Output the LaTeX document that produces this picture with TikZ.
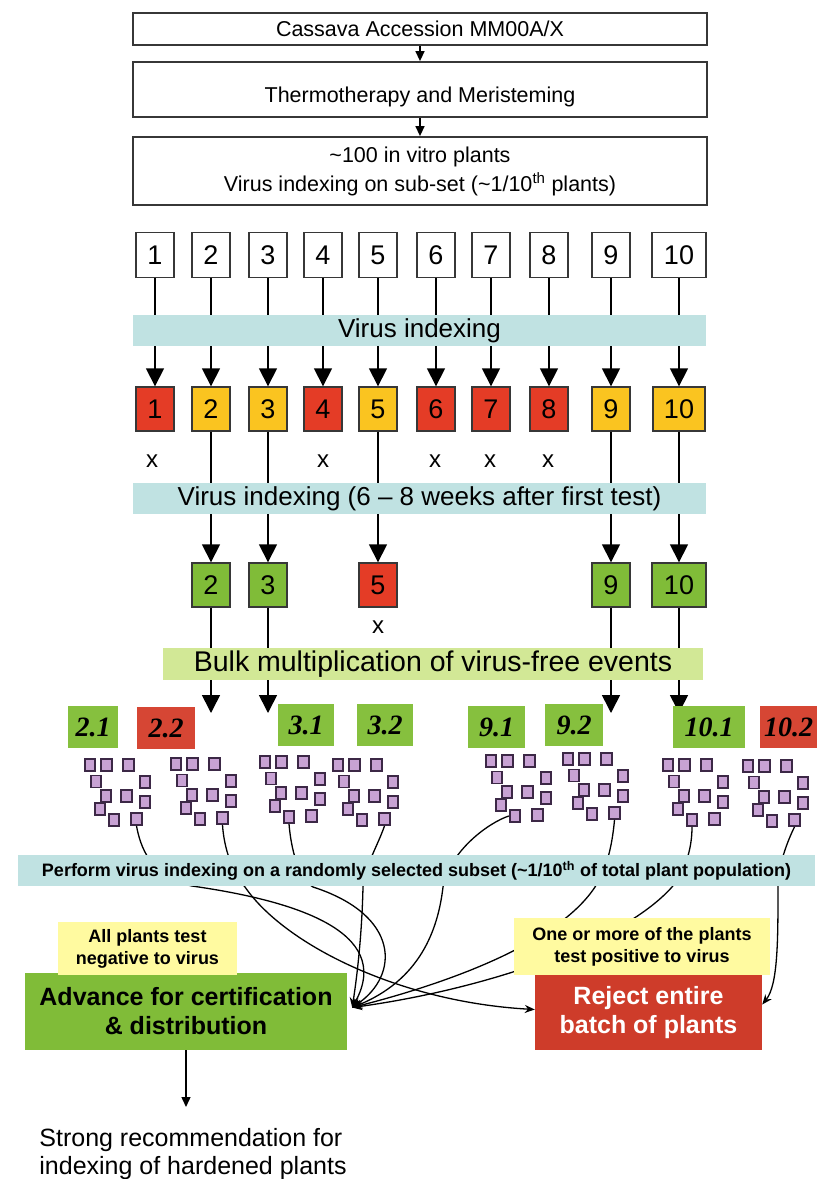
\documentclass[tikz,border=0pt]{standalone}
\usepackage{fontspec}
\setmainfont{Liberation Sans}
\newfontfamily\labfont{Liberation Serif}
\usetikzlibrary{arrows.meta}

\definecolor{bandblue}{RGB}{192,226,226}
\definecolor{bandgreen}{RGB}{210,232,150}
\definecolor{virred}{RGB}{228,60,38}
\definecolor{viryellow}{RGB}{250,196,32}
\definecolor{virgreen}{RGB}{128,188,56}
\definecolor{labgreen}{RGB}{134,192,62}
\definecolor{labred}{RGB}{214,70,52}
\definecolor{rejred}{RGB}{206,60,42}
\definecolor{notepale}{RGB}{255,250,160}
\definecolor{plantfill}{RGB}{200,162,212}
\definecolor{plantedge}{RGB}{60,40,70}
\definecolor{edge}{RGB}{55,55,55}

% one batch of plantlets, #1 name, (#2,#3) top left square
\newcommand{\plantset}[3]{%
\foreach \dx/\dy [count=\i] in {0/0,16.5/0,38.5/0,6/16.5,55/17,16/31,36.5/31,55/37,10/44,24/55,46.5/54}
  \node[plant] (#1-\i) at (#2+\dx,#3+\dy) {};
}

\begin{document}
\begin{tikzpicture}[x=1pt,y=-1pt,
  stage/.style={draw=edge,line width=1.8pt,minimum width=574pt,inner sep=0pt,align=center,font=\fontsize{21.5}{29}\selectfont},
  num/.style={draw=edge,line width=1.8pt,minimum width=38pt,minimum height=45pt,inner sep=0pt,font=\fontsize{27}{27}\selectfont},
  res/.style={draw=edge,line width=1.4pt,minimum width=38pt,minimum height=44pt,inner sep=0pt,font=\fontsize{27}{27}\selectfont},
  band/.style={fill=bandblue,minimum height=31pt,inner sep=0pt,font=\fontsize{26}{26}\selectfont},
  lab/.style={minimum height=42pt,inner sep=0pt,font=\labfont\bfseries\itshape\fontsize{28}{28}\selectfont},
  plant/.style={draw=plantedge,fill=plantfill,line width=1.8pt,minimum width=10.5pt,minimum height=12pt,inner sep=0pt},
  note/.style={fill=notepale,inner sep=0pt,align=center,font=\bfseries\fontsize{18}{22}\selectfont},
  verdict/.style={inner sep=0pt,align=center,font=\bfseries\fontsize{25}{29}\selectfont},
  cross/.style={font=\fontsize{24}{24}\selectfont},
  small/.style={line width=1.4pt,-{Triangle[length=10pt,width=9pt]}},
  link/.style={line width=1.6pt,-{Triangle[length=18pt,width=18pt]}},
  feed/.style={line width=1.3pt,-{Stealth[length=10pt,width=8pt]}}]
\useasboundingbox (0,0) rectangle (817,1179);

% top of the scheme
\node[stage,minimum height=32pt] (acc) at (420,29) {Cassava Accession MM00A/X};
\node[stage,minimum height=55pt,text height=30pt,text depth=4pt] (thermo) at (420,89.5) {Thermotherapy and Meristeming};
\node[stage,minimum height=68pt] (vitro) at (420,171) {\textasciitilde100 in vitro plants\\Virus indexing on sub-set (\textasciitilde1/10\textsuperscript{th} plants)};
\draw[small] (acc) -- (thermo);
\draw[small] (thermo) -- (vitro);

% first test
\foreach \n/\x in {1/155,2/211,3/268,4/323,5/378,6/436,7/491,8/549,9/611}
  \node[num] (w\n) at (\x,255) {\n};
\node[num,minimum width=54pt] (w10) at (679,255) {10};
\foreach \n/\x/\c in {1/155/virred,2/211/viryellow,3/268/viryellow,4/323/virred,5/378/viryellow,6/436/virred,7/491/virred,8/549/virred,9/611/viryellow}
  \node[res,fill=\c] (r\n) at (\x,409) {\n};
\node[res,fill=viryellow,minimum width=52pt] (r10) at (679,409) {10};
\foreach \n in {1,...,10}
  \draw[link] (w\n) -- (r\n);
\node[band,minimum width=573pt] (idx1) at (419.5,330.5) {Virus indexing};
\foreach \n/\x in {1/152,4/323,6/435,7/490,8/548}
  \node[cross] (x\n) at (\x,461) {x};

% second test
\node[res,fill=virgreen] (g2) at (211,585) {2};
\node[res,fill=virgreen] (g3) at (268,585) {3};
\node[res,fill=virred] (g5) at (378,585) {5};
\node[res,fill=virgreen] (g9) at (611,585) {9};
\node[res,fill=virgreen,minimum width=54pt] (g10) at (679,585) {10};
\foreach \n in {2,3,5,9,10}
  \draw[link] (r\n) -- (g\n);
\node[band,minimum width=573pt] (idx2) at (419.5,498.5) {Virus indexing (6 -- 8 weeks after first test)};
\node[cross] (x5) at (378,627) {x};

% bulking
\foreach \n/\x in {2/211,3/268,9/611,10/679}{
  \coordinate (t\n) at (\x,713);
  \draw[link] (g\n) -- (t\n);
}
\node[band,fill=bandgreen,minimum width=540pt,minimum height=32pt,font=\fontsize{28.5}{28.5}\selectfont] (bulk) at (433,664) {Bulk multiplication of virus-free events};

\node[lab,fill=labgreen,minimum width=50pt] (l21) at (93,727) {2.1};
\node[lab,fill=labred,minimum width=58pt] (l22) at (166,728) {2.2};
\node[lab,fill=labgreen,minimum width=56pt] (l31) at (306,725) {3.1};
\node[lab,fill=labgreen,minimum width=56pt] (l32) at (385,725) {3.2};
\node[lab,fill=labgreen,minimum width=57pt] (l91) at (496.5,727) {9.1};
\node[lab,fill=labgreen,minimum width=58pt] (l92) at (574,725) {9.2};
\node[lab,fill=labgreen,minimum width=72pt] (l101) at (709,727) {10.1};
\node[lab,fill=labred,minimum width=57pt] (l102) at (788.5,727) {10.2};

\plantset{p1}{90}{765}
\plantset{p2}{176}{764}
\plantset{p3}{265}{762}
\plantset{p4}{338}{765}
\plantset{p5}{491}{761}
\plantset{p6}{568}{759}
\plantset{p7}{668}{765}
\plantset{p8}{748}{766}

% outcome
\node[verdict,fill=virgreen,minimum width=322pt,minimum height=77pt] (adv) at (186,1011.5) {Advance for certification\\\& distribution};
\node[verdict,fill=rejred,text=white,minimum width=227pt,minimum height=75pt] (rej) at (648.5,1012.5) {Reject entire\\batch of plants};

\draw[feed] (p1-11.south) .. controls (140,845) and (150,878) .. (192,886) .. controls (290,900) and (395,930) .. ([xshift=5pt,yshift=4pt]adv.east);
\draw[feed] (p2-11.south) .. controls (224,848) and (232,872) .. (245,887) .. controls (285,945) and (400,1002) .. ([yshift=3pt]rej.west);
\draw[feed] (p3-10.south) .. controls (291,848) and (298,878) .. (313,887) .. controls (400,915) and (400,975) .. ([xshift=5pt,yshift=4pt]adv.east);
\draw[feed] (p4-11.south) .. controls (378,845) and (364,868) .. (363,887) .. controls (362,930) and (358,970) .. ([xshift=5pt,yshift=4pt]adv.east);
\draw[feed] (p5-10.west) .. controls (490,822) and (450,850) .. (443,887) .. controls (438,930) and (420,980) .. ([xshift=5pt,yshift=4pt]adv.east);
\draw[feed] (p6-11.south) .. controls (612,848) and (606,870) .. (595,887) .. controls (560,940) and (460,980) .. ([xshift=5pt,yshift=4pt]adv.east);
\draw[feed] (p7-10.south) .. controls (692,850) and (685,870) .. (672,887) .. controls (620,945) and (480,990) .. ([xshift=5pt,yshift=4pt]adv.east);
\draw[feed] (p8-11.south) .. controls (788,840) and (778,865) .. (778,887) .. controls (778,940) and (778,985) .. ([yshift=8pt]rej.east);

\node[band,minimum width=797pt,font=\bfseries\fontsize{18}{18}\selectfont] (subset) at (416.5,870.5) {Perform virus indexing on a randomly selected subset (\textasciitilde1/10\textsuperscript{th} of total plant population)};
\node[note,minimum width=179pt,minimum height=53pt] (neg) at (147.5,948.5) {All plants test\\negative to virus};
\node[note,minimum width=256pt,minimum height=57pt] (pos) at (642,946.5) {One or more of the plants\\test positive to virus};

\node[align=left,font=\fontsize{25}{28}\selectfont] (rec) at (193,1154) {Strong recommendation for\\indexing of hardened plants};
\coordinate (recin) at (186,1107);
\draw[small] (adv) -- (recin);
\end{tikzpicture}
\end{document}
